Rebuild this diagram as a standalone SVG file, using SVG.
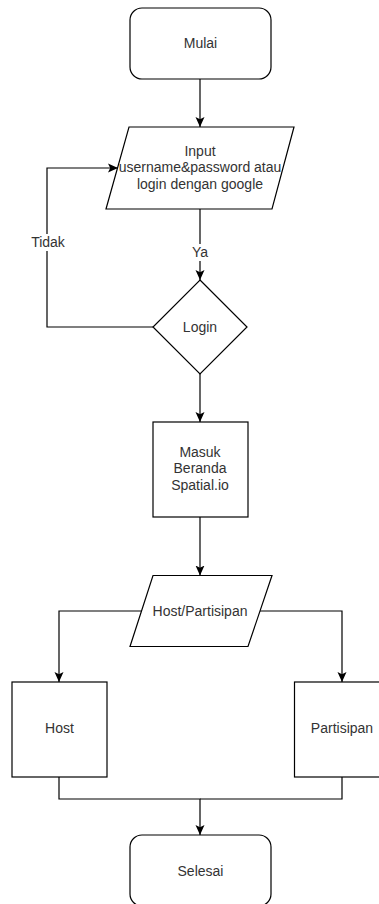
<svg xmlns="http://www.w3.org/2000/svg" width="379" height="904" viewBox="0 0 379 904">
  <style>
    .shape { fill: #ffffff; stroke: #000000; stroke-width: 1.2; }
    .edge { fill: none; stroke: #000000; stroke-width: 1.2; }
    .label { font-family: "Liberation Sans", Arial, sans-serif; font-size: 14px; fill: #333333; text-anchor: middle; }
    .lbg { fill: #ffffff; stroke: none; }
  </style>
  <defs>
    <marker id="arrow" markerUnits="userSpaceOnUse" markerWidth="10" markerHeight="10" viewBox="0 0 10 10" refX="10" refY="5" orient="auto">
      <path d="M0,0.5 L10,5 L0,9.5 L2.2,5 Z" fill="#000000"/>
    </marker>
  </defs>
  <rect width="379" height="904" fill="#ffffff"/>

  <g id="connectors">
    <path class="edge" d="M200,79 V127" marker-end="url(#arrow)"/>
    <path class="edge" d="M200,209 V280" marker-end="url(#arrow)"/>
    <path class="edge" d="M153,327 H47 V168 H118" marker-end="url(#arrow)"/>
    <path class="edge" d="M200,374 V422" marker-end="url(#arrow)"/>
    <path class="edge" d="M200,517 V575.5" marker-end="url(#arrow)"/>
    <path class="edge" d="M141,611 H59 V682" marker-end="url(#arrow)"/>
    <path class="edge" d="M260,611 H342 V682" marker-end="url(#arrow)"/>
    <path class="edge" d="M59,777 V799 H200 V835" marker-end="url(#arrow)"/>
    <path class="edge" d="M342,777 V799 H200"/>
    <rect class="lbg" x="31" y="234" width="34" height="17"/>
    <text class="label" x="48" y="247">Tidak</text>
    <rect class="lbg" x="191" y="244" width="18" height="17"/>
    <text class="label" x="200" y="257">Ya</text>
  </g>

  <g id="mulai">
    <rect class="shape" x="130" y="8" width="141" height="71" rx="12" ry="12"/>
    <text class="label" x="200.5" y="48">Mulai</text>
  </g>

  <g id="input-login">
    <polygon class="shape" points="129,127 294,127 272,209 106,209"/>
    <text class="label" x="200" y="155.5">Input</text>
    <text class="label" x="200" y="172.3">username&amp;password atau</text>
    <text class="label" x="200" y="189.1">login dengan google</text>
  </g>

  <g id="login">
    <polygon class="shape" points="200,280 247,327 200,374 153,327"/>
    <text class="label" x="200" y="331.5">Login</text>
  </g>

  <g id="beranda">
    <rect class="shape" x="153" y="422" width="95" height="95"/>
    <text class="label" x="200" y="456.5">Masuk</text>
    <text class="label" x="200" y="473.3">Beranda</text>
    <text class="label" x="200" y="490.1">Spatial.io</text>
  </g>

  <g id="host-partisipan">
    <polygon class="shape" points="153,575.5 272,575.5 248,646.5 130,646.5"/>
    <text class="label" x="200" y="616">Host/Partisipan</text>
  </g>

  <g id="host">
    <rect class="shape" x="12" y="682" width="95" height="95"/>
    <text class="label" x="59.5" y="733">Host</text>
  </g>

  <g id="partisipan">
    <rect class="shape" x="294.5" y="682" width="95" height="95"/>
    <text class="label" x="342" y="733">Partisipan</text>
  </g>

  <g id="selesai">
    <rect class="shape" x="130" y="835" width="141" height="71" rx="12" ry="12"/>
    <text class="label" x="200.5" y="876">Selesai</text>
  </g>
</svg>
